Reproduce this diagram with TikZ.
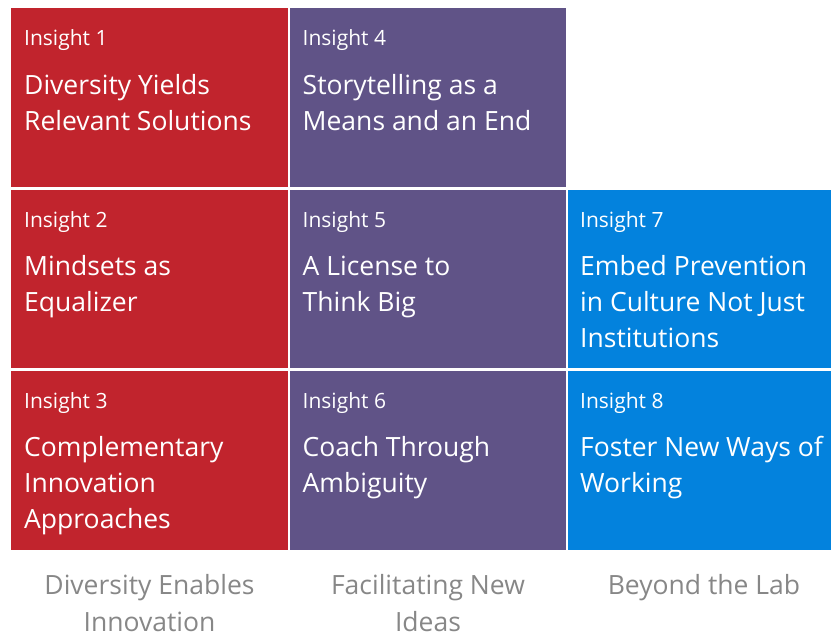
\documentclass[tikz,border=0pt]{standalone}
\usepackage{fontspec}
\setmainfont{Open Sans}
\definecolor{insred}{RGB}{193,36,45}
\definecolor{inspurple}{RGB}{96,83,135}
\definecolor{insblue}{RGB}{3,130,221}
\definecolor{capgray}{RGB}{135,135,135}
\tikzset{
    tag/.style={white, anchor=base west, inner sep=0pt, font=\fontsize{21}{28}\selectfont},
    head/.style={white, anchor=base west, inner sep=0pt, align=left, font=\fontsize{26.5}{36.3}\selectfont},
    footlabel/.style={capgray, anchor=base, inner sep=0pt, align=center, font=\fontsize{26.5}{36.5}\selectfont}
}
\begin{document}
\begin{tikzpicture}[x=1pt,y=-1pt]
        \useasboundingbox (0,0) rectangle (831,635);
        \fill[insred] (11,8) rectangle (288,187);
        \fill[insred] (11,190) rectangle (288,368);
        \fill[insred] (11,371) rectangle (288,550);
        \fill[inspurple] (290,8) rectangle (566,187);
        \fill[inspurple] (290,190) rectangle (566,368);
        \fill[inspurple] (290,371) rectangle (566,550);
        \fill[insblue] (568,190) rectangle (831,368);
        \fill[insblue] (568,371) rectangle (831,550);
        \node[tag] (tag1) at (24,45) {Insight 1};
        \node[head] (head1) at (24,130.3) {Diversity Yields\\Relevant Solutions};
        \node[tag] (tag2) at (24,227) {Insight 2};
        \node[head] (head2) at (24,311.3) {Mindsets as\\Equalizer};
        \node[tag] (tag3) at (24,408) {Insight 3};
        \node[head] (head3) at (24,528.6) {Complementary\\Innovation\\Approaches};
        \node[tag] (tag4) at (302.5,45) {Insight 4};
        \node[head] (head4) at (302.5,130.3) {Storytelling as a\\Means and an End};
        \node[tag] (tag5) at (302.5,227) {Insight 5};
        \node[head] (head5) at (302.5,311.3) {A License to\\Think Big};
        \node[tag] (tag6) at (302.5,408) {Insight 6};
        \node[head] (head6) at (302.5,492.3) {Coach Through\\Ambiguity};
        \node[tag] (tag7) at (580,227) {Insight 7};
        \node[head] (head7) at (580,347.6) {Embed Prevention\\in Culture Not Just\\Institutions};
        \node[tag] (tag8) at (580,408) {Insight 8};
        \node[head] (head8) at (580,492.3) {Foster New Ways of\\Working};
        \node[footlabel] (foot1) at (149.5,631) {Diversity Enables\\Innovation};
        \node[footlabel] (foot2) at (428,631) {Facilitating New\\Ideas};
        \node[footlabel] (foot3) at (704,594.5) {Beyond the Lab};
\end{tikzpicture}
\end{document}
